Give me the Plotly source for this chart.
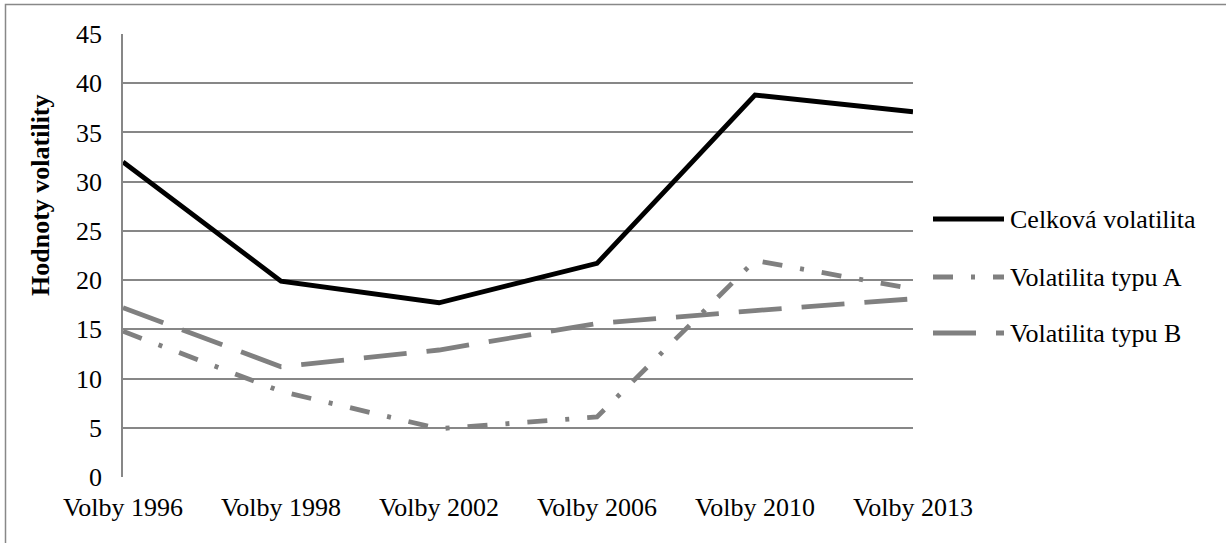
import plotly.graph_objects as go

categories = ["Volby 1996", "Volby 1998", "Volby 2002", "Volby 2006", "Volby 2010", "Volby 2013"]
celkova = [32.0, 19.9, 17.7, 21.7, 38.8, 37.1]
typ_a = [14.8, 8.7, 4.9, 6.1, 22.0, 19.1]
typ_b = [17.2, 11.2, 12.9, 15.6, 16.9, 18.1]
series_names = ["Celková volatilita", "Volatilita typu A", "Volatilita typu B"]
y_ticks = [0, 5, 10, 15, 20, 25, 30, 35, 40, 45]
y_title = "Hodnoty volatility"

W, H = 1226, 543
L, R, T, B = 123, 913, 34, 477  # plot area in pixels
FONT = "Liberation Serif, Times New Roman, serif"
FS = 26
GRAY = "#808080"
GRID = "#878787"

DASH_A = "20px,18px,4px,18px"
DASH_B = "43px,20px"
styles = [
    dict(color="#000000", width=4.8, dash="solid"),
    dict(color=GRAY, width=4.8, dash=DASH_A),
    dict(color=GRAY, width=4.8, dash=DASH_B),
]

fig = go.Figure()
for name, vals, st in zip(series_names, [celkova, typ_a, typ_b], styles):
    fig.add_trace(go.Scatter(x=categories, y=vals, name=name, mode="lines",
                             line=st, showlegend=False))

def px_x(px):
    return (px - L) / (R - L)

def px_y(py):
    return (B - py) / (B - T)

# outer frame (left and top visible)
fig.add_shape(type="rect", xref="paper", yref="paper",
              x0=px_x(5.5), x1=px_x(1240), y0=px_y(560), y1=px_y(4.5),
              line=dict(color="#888888", width=1.5), layer="below")

# manual legend
leg_y = [219, 277, 333]
for name, st, yy in zip(series_names, styles, leg_y):
    fig.add_shape(type="line", xref="paper", yref="paper",
                  x0=px_x(933), x1=px_x(1004), y0=px_y(yy), y1=px_y(yy),
                  line=dict(color=st["color"], width=st["width"], dash=st["dash"]))
    fig.add_annotation(xref="paper", yref="paper", x=px_x(1008), y=px_y(yy),
                       text=name, showarrow=False, xanchor="left", yanchor="middle",
                       font=dict(family=FONT, size=FS, color="#000000"))

# y-axis title
fig.add_annotation(xref="paper", yref="paper", x=px_x(40), y=px_y(195),
                   text="<b>" + y_title + "</b>", textangle=-90, showarrow=False,
                   xanchor="center", yanchor="middle",
                   font=dict(family=FONT, size=FS, color="#000000"))

fig.update_layout(
    width=W, height=H,
    margin=dict(l=L, r=W - R, t=T, b=H - B, pad=0),
    paper_bgcolor="white", plot_bgcolor="white",
    font=dict(family=FONT, size=FS, color="#000000"),
    showlegend=False,
)
fig.update_xaxes(type="category", range=[0, len(categories) - 1],
                 showgrid=False, showline=False, zeroline=False,
                 ticks="", ticklabelstandoff=12,
                 tickfont=dict(family=FONT, size=FS, color="#000000"))
fig.update_yaxes(range=[0, 45], tickvals=y_ticks, showgrid=True,
                 gridcolor=GRID, gridwidth=1.5, zeroline=False,
                 showline=True, linecolor=GRID, linewidth=1.5, mirror=False,
                 ticks="", ticklabelstandoff=14,
                 tickfont=dict(family=FONT, size=FS, color="#000000"))

fig.write_html("out.html", config={"displayModeBar": False},
               post_script="document.body.style.margin='0';document.body.style.overflow='hidden';")
